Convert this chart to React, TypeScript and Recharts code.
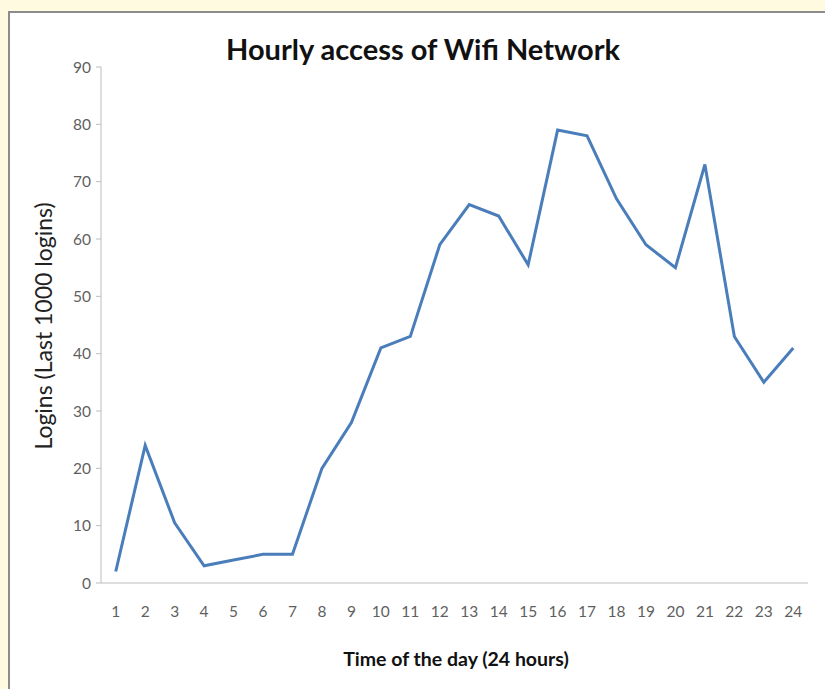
import { LineChart, Line, XAxis, YAxis } from 'recharts';

const hours = [1, 2, 3, 4, 5, 6, 7, 8, 9, 10, 11, 12, 13, 14, 15, 16, 17, 18, 19, 20, 21, 22, 23, 24];
const logins = [2, 24, 10.5, 3, 4, 5, 5, 20, 28, 41, 43, 59, 66, 64, 55.5, 79, 78, 67, 59, 55, 73, 43, 35, 41];
const yTicks = [0, 10, 20, 30, 40, 50, 60, 70, 80, 90];

const data = hours.map((hour, i) => ({ hour, logins: logins[i] }));
// tick marks sit between the hours, labels sit on them
const boundaryTicks = [...hours.map((h) => h - 0.5), hours[hours.length - 1] + 0.5];

const FONT = 'Lato, "Open Sans", sans-serif';
const AXIS_COLOR = '#bdbdbd';
const TICK_STYLE = { fontSize: 15.5, fill: '#5f5f5f', fontFamily: FONT };

export default function App() {
  return (
    <div
      style={{
        position: 'absolute',
        left: 0,
        top: 0,
        width: 825,
        height: 689,
        overflow: 'hidden',
        background: '#fffae0',
      }}
    >
      <div
        style={{
          position: 'absolute',
          left: 8,
          top: 11,
          width: 840,
          height: 700,
          background: '#fff',
          borderTop: '2px solid #8c8c8c',
          borderLeft: '2px solid #8c8c8c',
        }}
      />
      <div
        style={{
          position: 'absolute',
          left: 423,
          top: 48,
          transform: 'translate(-50%, -50%)',
          whiteSpace: 'nowrap',
          fontFamily: FONT,
          fontWeight: 700,
          fontSize: 29,
          color: '#111',
        }}
      >
        Hourly access of Wifi Network
      </div>
      <div
        style={{
          position: 'absolute',
          left: 43,
          top: 326,
          transform: 'translate(-50%, -50%) rotate(-90deg)',
          whiteSpace: 'nowrap',
          fontFamily: FONT,
          fontSize: 23,
          color: '#222',
        }}
      >
        Logins (Last 1000 logins)
      </div>
      <div
        style={{
          position: 'absolute',
          left: 456,
          top: 658,
          transform: 'translate(-50%, -50%)',
          whiteSpace: 'nowrap',
          fontFamily: FONT,
          fontWeight: 700,
          fontSize: 19.5,
          color: '#111',
        }}
      >
        Time of the day (24 hours)
      </div>
      <div style={{ position: 'absolute', left: 0, top: 0 }}>
        <LineChart
          width={825}
          height={689}
          data={data}
          margin={{ top: 67, right: 17, left: 61, bottom: 68 }}
        >
          <XAxis
            dataKey="hour"
            type="number"
            domain={[0.5, 24.5]}
            ticks={boundaryTicks}
            tick={false}
            tickSize={5}
            height={8}
            stroke={AXIS_COLOR}
            allowDataOverflow
          />
          <XAxis
            xAxisId="labels"
            dataKey="hour"
            type="number"
            domain={[0.5, 24.5]}
            ticks={hours}
            interval={0}
            axisLine={false}
            tickLine={false}
            tickMargin={9}
            tick={TICK_STYLE}
            height={30}
          />
          <YAxis
            type="number"
            domain={[0, 90]}
            ticks={yTicks}
            interval={0}
            width={40}
            tickSize={5}
            tickMargin={5}
            stroke={AXIS_COLOR}
            tick={TICK_STYLE}
          />
          <Line
            type="linear"
            dataKey="logins"
            stroke="#4a7ebb"
            strokeWidth={3}
            dot={false}
            isAnimationActive={false}
          />
        </LineChart>
      </div>
    </div>
  );
}
